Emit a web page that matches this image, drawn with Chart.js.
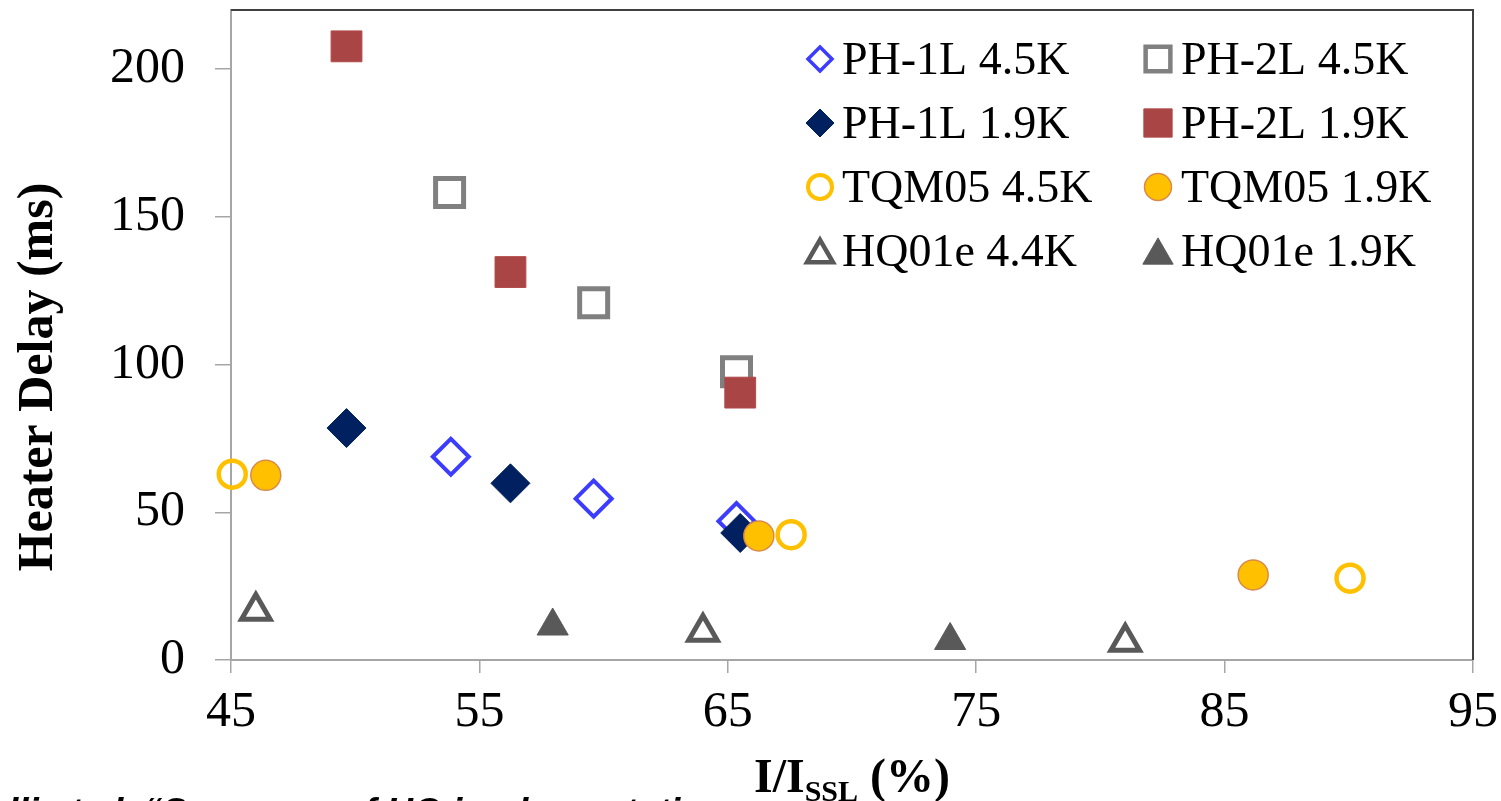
<!DOCTYPE html>
<html>
<head>
<meta charset="utf-8">
<script src="https://cdn.jsdelivr.net/npm/chart.js@4.4.0/dist/chart.umd.min.js"></script>
<style>
  body { margin: 0; background: #fff; }
  #wrap { width: 1501px; height: 801px; position: relative; }
</style>
</head>
<body>
<div id="wrap">
  <canvas id="delayChart" width="1501" height="801"></canvas>
</div>
<script>
// values: x = I/Issl (%), y = heater delay (ms)
const xTicks = [45, 55, 65, 75, 85, 95];
const yTicks = [0, 50, 100, 150, 200];

const ph1l45x = [53.85, 59.6, 65.35];
const ph1l45y = [68.8, 54.6, 47.0];
const ph1l19x = [49.65, 56.25, 65.5];
const ph1l19y = [78.5, 59.8, 43.0];
const ph2l45x = [53.8, 59.6, 65.35];
const ph2l45y = [158.2, 120.9, 97.6];
const ph2l19x = [49.65, 56.25, 65.5];
const ph2l19y = [207.7, 131.3, 90.5];
const tqm45x = [45.05, 67.55, 90.05];
const tqm45y = [62.9, 42.4, 27.7];
const tqm19x = [46.4, 66.25, 86.15];
const tqm19y = [62.5, 42.0, 28.8];
const hq44x = [46.0, 64.0, 81.0];
const hq44y = [16.6, 9.5, 6.1];
const hq19x = [57.95, 73.95];
const hq19y = [11.5, 6.6];

const pts = (xs, ys) => xs.map((x, i) => ({ x: x, y: ys[i] }));

const datasets = [
  { label: 'PH-1L 4.5K', data: pts(ph1l45x, ph1l45y), pointStyle: 'rectRot', pointRadius: 18,
    borderColor: '#3c3cff', backgroundColor: 'rgba(255,255,255,0)', borderWidth: 4,
    legend: { col: 0, row: 0, r: 12, bw: 3.5 } },
  { label: 'PH-1L 1.9K', data: pts(ph1l19x, ph1l19y), pointStyle: 'rectRot', pointRadius: 19.5,
    borderColor: '#002060', backgroundColor: '#002060', borderWidth: 1,
    legend: { col: 0, row: 1, r: 14, bw: 1 } },
  { label: 'PH-2L 4.5K', data: pts(ph2l45x, ph2l45y), pointStyle: 'rect', pointRadius: 19.8,
    borderColor: '#808080', backgroundColor: 'rgba(255,255,255,0)', borderWidth: 5,
    legend: { col: 1, row: 0, r: 17.5, bw: 4.5 } },
  { label: 'PH-2L 1.9K', data: pts(ph2l19x, ph2l19y), pointStyle: 'rect', pointRadius: 21.8,
    borderColor: '#b24a4a', backgroundColor: '#a94545', borderWidth: 1,
    legend: { col: 1, row: 1, r: 20, bw: 1 } },
  { label: 'TQM05 4.5K', data: pts(tqm45x, tqm45y), pointStyle: 'circle', pointRadius: 13.5,
    borderColor: '#ffc000', backgroundColor: 'rgba(255,255,255,0)', borderWidth: 4.5,
    legend: { col: 0, row: 2, r: 12, bw: 4 } },
  { label: 'TQM05 1.9K', data: pts(tqm19x, tqm19y), pointStyle: 'circle', pointRadius: 15,
    borderColor: '#d98a4a', backgroundColor: '#ffc000', borderWidth: 1.5,
    legend: { col: 1, row: 2, r: 13.5, bw: 1.5 } },
  { label: 'HQ01e 4.4K', data: pts(hq44x, hq44y), pointStyle: 'triangle', pointRadius: 16.5,
    borderColor: '#595959', backgroundColor: 'rgba(255,255,255,0)', borderWidth: 5,
    legend: { col: 0, row: 3, r: 15, bw: 4.5 } },
  { label: 'HQ01e 1.9K', data: pts(hq19x, hq19y), pointStyle: 'triangle', pointRadius: 18,
    borderColor: '#595959', backgroundColor: '#595959', borderWidth: 1,
    legend: { col: 1, row: 3, r: 17.5, bw: 1 } }
];
// first series drawn first (Excel-like stacking)
datasets.forEach((d, i) => { d.order = datasets.length - i; d.showLine = false; d.clip = false;
  d.pointHoverRadius = d.pointRadius; });

const serif = "'Liberation Serif', 'Times New Roman', serif";

// top and right frame lines are darker than the axes
const framePlugin = {
  id: 'frame',
  beforeDatasetsDraw(chart) {
    const { ctx, chartArea: a } = chart;
    ctx.save();
    ctx.strokeStyle = '#404040';
    ctx.lineWidth = 2;
    ctx.beginPath();
    ctx.moveTo(a.left, a.top);
    ctx.lineTo(a.right, a.top);
    ctx.lineTo(a.right, a.bottom);
    ctx.stroke();
    ctx.restore();
  }
};

// legend in two columns inside the plot, axis titles with subscript
const textPlugin = {
  id: 'texts',
  afterDraw(chart) {
    const ctx = chart.ctx;
    ctx.save();
    const colMarker = [820, 1158];
    const colText = [842, 1181];
    const rowY = [59, 123, 187, 251];
    chart.data.datasets.forEach(d => {
      const L = d.legend;
      const mx = colMarker[L.col], my = rowY[L.row];
      ctx.fillStyle = d.backgroundColor;
      ctx.strokeStyle = d.borderColor;
      ctx.lineWidth = L.bw;
      Chart.helpers.drawPoint(ctx, { pointStyle: d.pointStyle, radius: L.r, rotation: 0, borderWidth: L.bw },
        mx, d.pointStyle === 'triangle' ? my + L.r / 4 : my);
      ctx.fillStyle = '#000';
      ctx.font = '46px ' + serif;
      ctx.textAlign = 'left';
      ctx.textBaseline = 'alphabetic';
      ctx.fillText(d.label, colText[L.col], my + 15);
    });

    // y title
    ctx.save();
    ctx.translate(52, 377);
    ctx.rotate(-Math.PI / 2);
    ctx.font = 'bold 50px ' + serif;
    ctx.textAlign = 'center';
    ctx.textBaseline = 'alphabetic';
    ctx.fillStyle = '#000';
    ctx.fillText('Heater Delay (ms)', 0, 0);
    ctx.restore();

    // x title I/I_SSL (%)
    ctx.fillStyle = '#000';
    ctx.textBaseline = 'alphabetic';
    ctx.textAlign = 'left';
    const big = 'bold 48px ' + serif, small = 'bold 30px ' + serif;
    ctx.font = big;
    const w1 = ctx.measureText('I/I').width;
    const w3 = ctx.measureText(' (%)').width;
    ctx.font = small;
    const w2 = ctx.measureText('SSL').width;
    let x = 852 - (w1 + w2 + w3) / 2;
    ctx.font = big; ctx.fillText('I/I', x, 792); x += w1;
    ctx.font = small; ctx.fillText('SSL', x, 801); x += w2;
    ctx.font = big; ctx.fillText(' (%)', x, 792);

    // citation line cut off by the bottom edge
    ctx.font = "italic bold 37px 'Liberation Sans', Arial, sans-serif";
    ctx.fillText('lli et al. \u201CSummary of HQ implementation', 8, 824);
    ctx.restore();
  }
};

new Chart(document.getElementById('delayChart'), {
  type: 'scatter',
  data: { datasets },
  options: {
    responsive: false,
    animation: false,
    events: [],
    layout: { autoPadding: false, padding: { left: 0, top: 10, right: 28, bottom: 0 } },
    plugins: {
      legend: { display: false },
      tooltip: { enabled: false }
    },
    scales: {
      x: {
        type: 'linear',
        min: 45, max: 95,
        afterFit: s => { s.height = 141; s.paddingLeft = 0; s.paddingRight = 0; },
        afterBuildTicks: s => { s.ticks = xTicks.map(v => ({ value: v })); },
        border: { color: '#a6a6a6', width: 2 },
        grid: { drawOnChartArea: false, drawTicks: true, tickLength: 13, tickColor: '#a6a6a6', lineWidth: 1.5 },
        ticks: { color: '#000', font: { family: serif, size: 50 }, padding: 10, maxRotation: 0 }
      },
      y: {
        type: 'linear',
        min: 0, max: 220,
        afterFit: s => { s.width = 231; s.paddingTop = 0; s.paddingBottom = 0; },
        afterBuildTicks: s => { s.ticks = yTicks.map(v => ({ value: v })); },
        border: { color: '#a6a6a6', width: 2 },
        grid: { drawOnChartArea: false, drawTicks: true, tickLength: 16, tickColor: '#a6a6a6', lineWidth: 1.5 },
        ticks: { color: '#000', font: { family: serif, size: 50 }, padding: 30 }
      }
    }
  },
  plugins: [framePlugin, textPlugin]
});
</script>
</body>
</html>
